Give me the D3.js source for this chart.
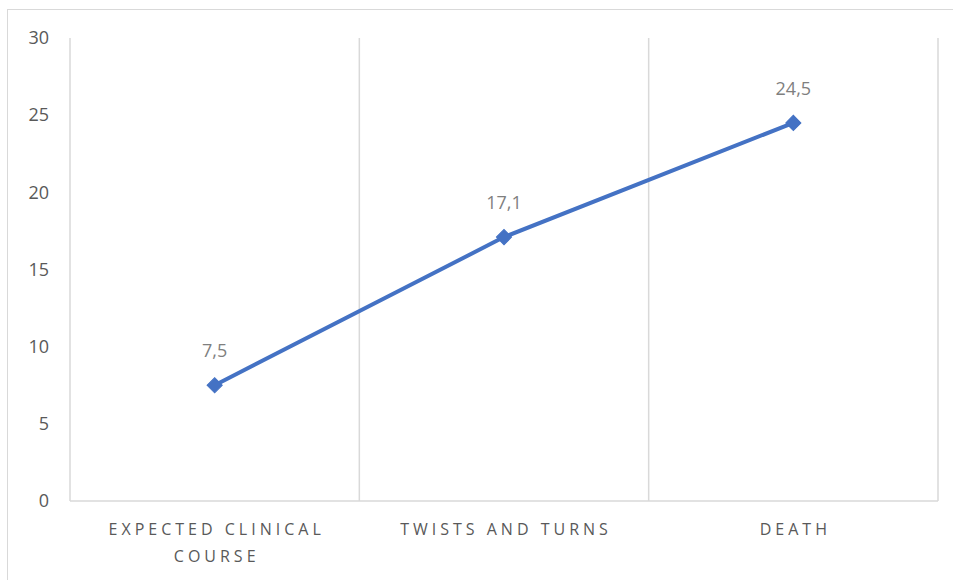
<!DOCTYPE html>
<html><head><meta charset="utf-8">
<script src="https://cdn.jsdelivr.net/npm/d3@7"></script>
<style>body{margin:0;background:#fff}svg{display:block}</style>
</head><body>
<script>
const categories = [["EXPECTED CLINICAL", "COURSE"], ["TWISTS AND TURNS"], ["DEATH"]];
const values = [7.5, 17.1, 24.5];
const valueLabels = ["7,5", "17,1", "24,5"];
const yTicks = [0, 5, 10, 15, 20, 25, 30];

const W = 953, H = 580;
const svg = d3.select("body").append("svg").attr("width", W).attr("height", H);
svg.append("rect").attr("x", 7.5).attr("y", 9.5).attr("width", W).attr("height", H)
  .attr("fill", "#fff").attr("stroke", "#d9d9d9").attr("stroke-width", 1);

const L = 70, R = 938, T = 38, B = 501;
const x = d3.scaleBand().domain(d3.range(categories.length)).range([L, R]).paddingInner(0).paddingOuter(0);
const y = d3.scaleLinear().domain([0, 30]).range([B, T]);
const font = "'Open Sans', 'Liberation Sans', sans-serif";

// vertical gridlines at category boundaries
const bounds = d3.range(categories.length + 1).map(i => i < categories.length ? x(i) : x(categories.length - 1) + x.bandwidth());
svg.append("g").selectAll("line").data(bounds).join("line")
  .attr("x1", d => d).attr("x2", d => d).attr("y1", T).attr("y2", B)
  .attr("stroke", "#d9d9d9").attr("stroke-width", 1.5);
svg.append("line").attr("x1", L).attr("x2", R).attr("y1", B).attr("y2", B)
  .attr("stroke", "#d9d9d9").attr("stroke-width", 1.5);

// y axis labels
const yAxis = d3.axisLeft(y).tickValues(yTicks).tickSize(0).tickPadding(21);
const gy = svg.append("g").attr("transform", `translate(${L},0)`).call(yAxis);
gy.select(".domain").remove();
gy.selectAll("text").attr("font-family", font).attr("font-size", 18).attr("fill", "#595959");

// category labels
const gx = svg.append("g");
categories.forEach((lines, i) => {
  const t = gx.append("text").attr("y", 535)
    .attr("text-anchor", "middle").attr("font-family", font).attr("font-size", 16)
    .attr("letter-spacing", "4px").attr("fill", "#595959");
  lines.forEach((ln, j) => t.append("tspan").attr("x", x(i) + x.bandwidth() / 2 + 2).attr("dy", j === 0 ? 0 : 27).text(ln));
});

// line
const cx = i => x(i) + x.bandwidth() / 2;
svg.append("path").datum(values)
  .attr("d", d3.line().x((d, i) => cx(i)).y(d => y(d)))
  .attr("fill", "none").attr("stroke", "#4472C4").attr("stroke-width", 4).attr("stroke-linejoin", "round");

// diamond markers
svg.append("g").selectAll("path").data(values).join("path")
  .attr("d", d3.symbol().type(d3.symbolSquare).size(115))
  .attr("transform", (d, i) => `translate(${cx(i)},${y(d)}) rotate(45)`)
  .attr("fill", "#4472C4").attr("stroke", "#4472C4").attr("stroke-width", 1);

// data labels
svg.append("g").selectAll("text").data(values).join("text")
  .attr("x", (d, i) => cx(i)).attr("y", d => y(d) - 28)
  .attr("text-anchor", "middle").attr("font-family", font).attr("font-size", 18)
  .attr("fill", "#7f7f7f").text((d, i) => valueLabels[i]);
</script>
</body></html>
